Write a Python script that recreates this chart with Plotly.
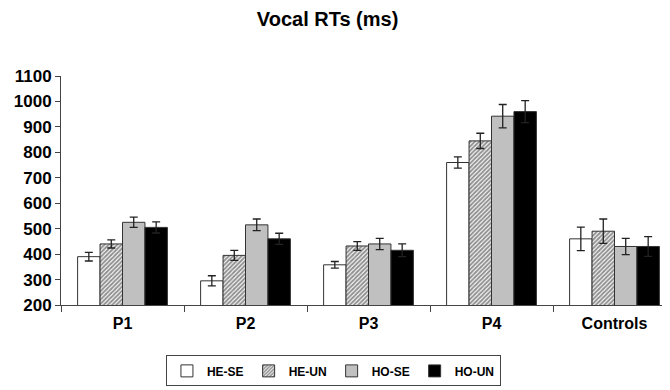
import plotly.graph_objects as go

categories = ["P1", "P2", "P3", "P4", "Controls"]
series_names = ["HE-SE", "HE-UN", "HO-SE", "HO-UN"]
he_se = [390, 295, 358, 760, 460]
he_un = [440, 395, 432, 845, 490]
ho_se = [525, 515, 440, 942, 430]
ho_un = [505, 460, 415, 960, 430]
he_se_err = [17, 20, 13, 22, 46]
he_un_err = [16, 20, 17, 30, 48]
ho_se_err = [20, 23, 22, 46, 32]
ho_un_err = [22, 22, 25, 43, 39]
y_ticks = [200, 300, 400, 500, 600, 700, 800, 900, 1000, 1100]

FONT = "Arial, Liberation Sans, Helvetica, sans-serif"
OUTLINE = dict(color="#333333", width=1)

styles = [
    dict(color="white", pattern=None),
    dict(color="white", pattern=dict(shape="/", fgcolor="#222222", bgcolor="white", size=3, solidity=0.65)),
    dict(color="#c0c0c0", pattern=None),
    dict(color="black", pattern=None),
]
values = [he_se, he_un, ho_se, ho_un]
errs = [he_se_err, he_un_err, ho_se_err, ho_un_err]

fig = go.Figure()
for name, vals, err, st in zip(series_names, values, errs, styles):
    marker = dict(color=st["color"], line=OUTLINE)
    if st["pattern"]:
        marker["pattern"] = st["pattern"]
    fig.add_trace(go.Bar(
        name="<b>%s</b>" % name, x=categories, y=vals, marker=marker,
        error_y=dict(type="data", array=err, visible=True, color="#222222", thickness=1.3, width=4),
    ))

fig.update_layout(
    width=670, height=390,
    margin=dict(l=53, r=2, t=68, b=93),
    paper_bgcolor="white", plot_bgcolor="white",
    barmode="group", bargap=0.27, bargroupgap=0,
    font=dict(family=FONT, color="black"),
    title=dict(text="<b>Vocal RTs (ms)</b>", x=0.477, xanchor="center", y=0.99, yanchor="top",
               pad=dict(t=0, b=0),
               font=dict(size=20, family=FONT, color="black")),
    legend=dict(orientation="h", x=0.443, xanchor="center", y=-0.22, yanchor="top",
                bordercolor="#444444", borderwidth=1, bgcolor="white",
                font=dict(size=12, family=FONT, color="black"),
                itemwidth=30, traceorder="normal"),
    showlegend=True,
)
fig.update_xaxes(
    showline=True, linecolor="#444444", linewidth=1,
    ticks="outside", tickson="boundaries", ticklen=6, tickcolor="#444444",
    tickfont=dict(size=16, family=FONT, color="black"),
    tickvals=categories, ticktext=["<b>%s</b>" % c for c in categories],
    ticklabelstandoff=4,
    showgrid=False, zeroline=False,
)
fig.update_yaxes(
    range=[200, 1100], showline=True, linecolor="#444444", linewidth=1,
    ticks="outside", ticklen=5, tickcolor="#444444",
    tickvals=y_ticks, ticktext=["<b>%d</b>" % v for v in y_ticks],
    tickfont=dict(size=17, family=FONT, color="black"),
    showgrid=False, zeroline=False,
)

fig.write_html("out.html")
